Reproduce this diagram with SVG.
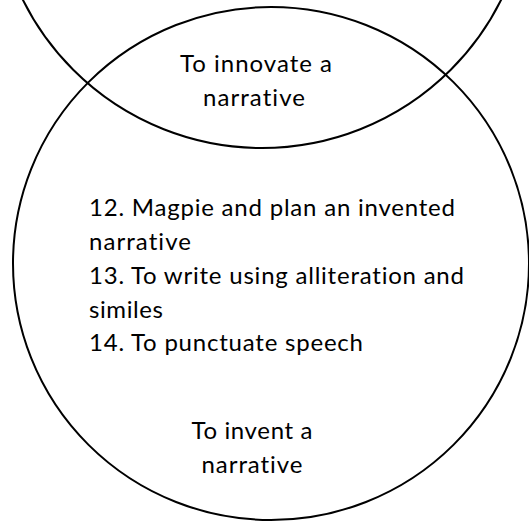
<svg xmlns="http://www.w3.org/2000/svg" width="529" height="522" viewBox="0 0 529 522">
  <style>
    .ring { fill: none; stroke: #000; stroke-width: 2; }
    .lbl { font-family: Lato, "Open Sans", "Liberation Sans", sans-serif; font-size: 24px; fill: #000; font-variant-ligatures: none; font-feature-settings: "liga" 0, "clig" 0; }
    .mid { text-anchor: middle; }
  </style>
  <rect width="529" height="522" fill="#fff"/>
  <g id="circle-innovate">
    <circle class="ring" cx="262" cy="-119" r="267"/>
    <text class="lbl mid" x="256" y="72" textLength="152" lengthAdjust="spacing">To innovate a</text>
    <text class="lbl mid" x="254" y="106" textLength="102" lengthAdjust="spacing">narrative</text>
  </g>
  <g id="circle-invent">
    <ellipse class="ring" cx="271" cy="263.5" rx="258" ry="256.5"/>
    <text class="lbl" x="89" y="216" textLength="366" lengthAdjust="spacing">12. Magpie and plan an invented</text>
    <text class="lbl" x="89" y="250" textLength="102" lengthAdjust="spacing">narrative</text>
    <text class="lbl" x="89" y="284" textLength="375" lengthAdjust="spacing">13. To write using alliteration and</text>
    <text class="lbl" x="89" y="318" textLength="74" lengthAdjust="spacing">similes</text>
    <text class="lbl" x="89" y="351" textLength="274" lengthAdjust="spacing">14. To punctuate speech</text>
    <text class="lbl mid" x="252" y="439" textLength="121" lengthAdjust="spacing">To invent a</text>
    <text class="lbl mid" x="252" y="473" textLength="101" lengthAdjust="spacing">narrative</text>
  </g>
  <g id="connectors"></g>
</svg>
